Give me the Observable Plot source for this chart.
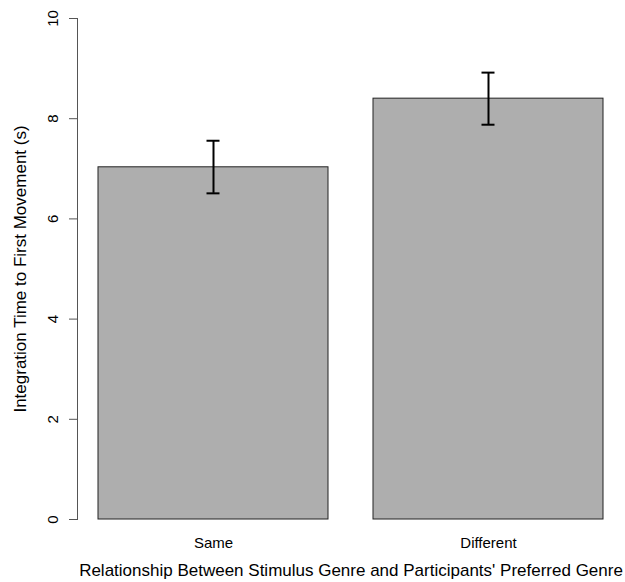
<!DOCTYPE html>
<html>
<head>
<meta charset="utf-8">
<script src="https://cdn.jsdelivr.net/npm/d3@7"></script>
<script src="https://cdn.jsdelivr.net/npm/@observablehq/plot@0.6"></script>
<style>
  html, body { margin: 0; padding: 0; background: #fff; }
  #chart svg { display: block; }
</style>
</head>
<body>
<div id="chart"></div>
<script>
const categories = ["Same", "Different"];
const means = [7.03, 8.40];
const lower = [6.51, 7.88];
const upper = [7.56, 8.92];
const yTicks = [0, 2, 4, 6, 8, 10];
const xTitle = "Relationship Between Stimulus Genre and Participants' Preferred Genre";
const yTitle = "Integration Time to First Movement (s)";

const data = categories.map((c, i) => ({cat: c, mean: means[i], lo: lower[i], hi: upper[i]}));

const font = "'Liberation Sans', Arial, Helvetica, sans-serif";

const chart = Plot.plot({
  width: 625,
  height: 582,
  marginLeft: 77,
  marginRight: 1,
  marginTop: 18,
  marginBottom: 63,
  style: {fontFamily: font, background: "#fff", color: "#000"},
  x: {domain: categories, paddingInner: 0.163, paddingOuter: 0.0725, axis: null},
  y: {domain: [0, 10], axis: null},
  marks: [
    Plot.barY(data, {x: "cat", y: "mean", fill: "#aeaeae", stroke: "#222", strokeWidth: 1}),
    Plot.ruleX(data, {x: "cat", y1: "lo", y2: "hi", stroke: "#000", strokeWidth: 2}),
    Plot.tickY(data, {x: "cat", y: "lo", stroke: "#000", strokeWidth: 2, insetLeft: 108.5, insetRight: 108.5}),
    Plot.tickY(data, {x: "cat", y: "hi", stroke: "#000", strokeWidth: 2, insetLeft: 108.5, insetRight: 108.5}),
    Plot.frame({anchor: "left", stroke: "#555"}),
    Plot.axisY({ticks: yTicks, tickSize: 8, tickFormat: () => "", label: null, stroke: "#555"}),
    Plot.text(yTicks, {y: d => d, text: d => String(d), frameAnchor: "left", rotate: -90, dx: -24, textAnchor: "middle", lineAnchor: "middle", fontSize: 15, fill: "#000"}),
    Plot.text(categories, {x: d => d, text: d => d, frameAnchor: "bottom", dy: 24, lineAnchor: "middle", fontSize: 15, fill: "#000"}),
    Plot.text([xTitle], {text: d => d, frameAnchor: "bottom", dy: 51, lineAnchor: "middle", fontSize: 17, fill: "#000"}),
    Plot.text([yTitle], {text: d => d, frameAnchor: "left", rotate: -90, dx: -57, textAnchor: "middle", lineAnchor: "middle", fontSize: 17, fill: "#000"})
  ]
});
document.getElementById("chart").appendChild(chart);
</script>
</body>
</html>
